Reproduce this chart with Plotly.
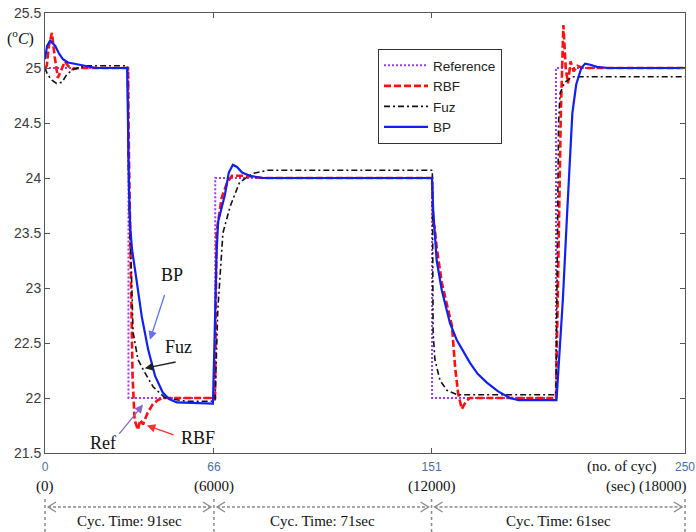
import plotly.graph_objects as go

# ---------------- data ----------------
ref_x = [0, 32.6, 32.6, 66.5, 66.5, 151.2, 151.2, 199.6, 199.6, 250]
ref_y = [25, 25, 22, 22, 24, 24, 22, 22, 25, 25]

rbf_x = [0, 0.7, 1.5, 2.7, 3.8, 5, 6.3, 7.8, 9, 10.5, 14, 32.4,
         32.8, 33.5, 34.2, 35, 36.3, 37.2, 38.3, 40, 42, 44, 46, 66.4,
         67, 69, 71, 73, 78, 85, 151.2,
         151.6, 152.2, 153, 155, 157, 159, 160.2, 161.4, 162.8, 164.5, 166, 199.6,
         200.5, 201.5, 202.5, 203.4, 204.3, 205.3, 206.5, 208, 210, 250]
rbf_y = [25.0, 25.02, 25.2, 25.32, 25.1, 24.91, 24.98, 25.06, 25.02, 24.99, 25.0, 25.0,
         24.2, 23.0, 22.2, 21.8, 21.71, 21.8, 21.76, 21.86, 21.94, 21.98, 22.0, 22.0,
         23.5, 23.82, 23.95, 24.02, 24.02, 24.0, 24.0,
         23.6, 23.55, 23.37, 23.05, 22.85, 22.65, 22.28, 22.04, 21.9, 21.97, 22.0, 22.0,
         23.2, 24.6, 25.39, 25.0, 24.86, 25.06, 24.97, 25.02, 25.0, 25.0]

fuz_x = [0, 1, 2.7, 4.5, 6.6, 8.5, 10.5, 12.5, 16, 32.2,
         32.5, 33, 33.8, 34.4, 36.3, 39, 42.3, 47, 55.5, 66.4,
         67.5, 69.5, 72.3, 76, 81, 87, 151.3,
         151.6, 152.3, 154.3, 157, 161, 199.6,
         200, 200.6, 201.2, 203, 206, 250]
fuz_y = [25.0, 24.94, 24.89, 24.86, 24.87, 24.94, 24.98, 25.0, 25.02, 25.02,
         24.2, 23.6, 23.1, 22.6, 22.35, 22.23, 22.1, 22.0, 21.97, 21.97,
         22.8, 23.5, 23.74, 23.96, 24.04, 24.07, 24.07,
         22.6, 22.35, 22.16, 22.07, 22.03, 22.03,
         23.0, 24.5, 24.77, 24.87, 24.92, 24.92]

bp_x = [0, 0.8, 2, 4, 5.5, 7, 9, 11, 15.6, 20, 32.1,
        32.4, 32.8, 33.3, 34, 35.9, 37.8, 40.3, 43, 46, 48.5, 51.5, 65.6,
        66.3, 67, 67.6, 69, 70.3, 71.8, 73.4, 75, 77, 80, 85, 151.2,
        151.6, 153, 155, 158.2, 160.8, 166, 169, 172.6, 177, 181.6, 185, 199.8,
        201, 202.3, 204, 206, 207.5, 209.5, 211, 213, 215.6, 220, 250]
bp_y = [25.08, 25.2, 25.25, 25.2, 25.13, 25.08, 25.05, 25.04, 25.02, 25.0, 25.0,
        24.4, 23.9, 23.55, 23.35, 23.05, 22.74, 22.44, 22.2, 22.05, 21.99, 21.96, 21.95,
        22.6, 23.3, 23.6, 23.72, 23.85, 24.05, 24.12, 24.1, 24.05, 24.02, 24.0, 24.0,
        23.72, 23.25, 22.98, 22.68, 22.53, 22.32, 22.22, 22.14, 22.06, 22.0, 21.98, 21.98,
        22.4, 22.9, 23.7, 24.59, 24.85, 25.0, 25.04, 25.03, 25.01, 25.0, 25.0]

y_ticks = [21.5, 22, 22.5, 23, 23.5, 24, 24.5, 25, 25.5]
y_tick_text = ["21.5", "22", "22.5", "23", "23.5", "24", "24.5", "25", "25.5"]
x_ticks = [0, 66, 151, 250]
x_tick_text = ["0", "66", "151", "250"]
sec_labels = ["(0)", "(6000)", "(12000)"]
cyc_times = ["Cyc. Time: 91sec", "Cyc. Time: 71sec", "Cyc. Time: 61sec"]

# ---------------- figure ----------------
fig = go.Figure()
fig.add_trace(go.Scatter(x=ref_x, y=ref_y, mode="lines", name="Reference",
                         line=dict(color="#9b3cf0", width=2, dash="2px,2px")))
fig.add_trace(go.Scatter(x=rbf_x, y=rbf_y, mode="lines", name="RBF",
                         line=dict(color="#ff1010", width=2.6, dash="7px,3px")))
fig.add_trace(go.Scatter(x=fuz_x, y=fuz_y, mode="lines", name="Fuz",
                         line=dict(color="#111111", width=1.6, dash="6px,3px,2px,3px")))
fig.add_trace(go.Scatter(x=bp_x, y=bp_y, mode="lines", name="BP",
                         line=dict(color="#1020f0", width=2.2)))

W, H = 696, 532
L, R, T, B = 45, 11, 13, 79
PW, PH = W - L - R, H - T - B
XMAX = 250.0

def xp(v, dpx=0.0):
    return v / XMAX + dpx / PW

def yp(px_below_axis):
    return -px_below_axis / PH

serif = "Liberation Serif, Times New Roman, serif"
annotations = []
shapes = []

# y-axis unit label
annotations.append(dict(x=-25 / PW, y=1 - 25 / PH, xref="paper", yref="paper",
                        xanchor="center", yanchor="middle",
                        text="(<sup>o</sup><i>C</i>)", showarrow=False,
                        font=dict(family=serif, size=16, color="#111")))

# sec labels under tick labels
for v, t in zip(x_ticks[:3], sec_labels):
    annotations.append(dict(x=v, y=yp(33), xref="x", yref="paper", text=t,
                            xanchor="center", yanchor="middle",
                            showarrow=False, font=dict(family=serif, size=15, color="#111")))
annotations.append(dict(x=xp(250, 3), y=yp(33), xref="paper", yref="paper", text="(sec) (18000)",
                        xanchor="right", yanchor="middle", showarrow=False,
                        font=dict(family=serif, size=15, color="#111")))
annotations.append(dict(x=xp(0, 577), y=yp(14), xref="paper", yref="paper", text="(no. of cyc)",
                        xanchor="center", yanchor="middle", showarrow=False,
                        font=dict(family=serif, size=15, color="#111")))

# cycle time segments
gray = "#8a8a8a"
for v in x_ticks:
    shapes.append(dict(type="line", xref="paper", yref="paper", x0=xp(v), x1=xp(v),
                       y0=yp(46), y1=yp(80), line=dict(color=gray, width=1.5, dash="3px,3px")))
for i, t in enumerate(cyc_times):
    a, b = x_ticks[i], x_ticks[i + 1]
    yy = yp(54)
    shapes.append(dict(type="line", xref="paper", yref="paper", x0=xp(a, 3), x1=xp(b, -3),
                       y0=yy, y1=yy, line=dict(color=gray, width=1.5, dash="3px,2px")))
    dy = 5 / PH
    shapes.append(dict(type="path", xref="paper", yref="paper",
                       path=f"M {xp(a, 11)} {yy + dy} L {xp(a, 3)} {yy} L {xp(a, 11)} {yy - dy}",
                       line=dict(color=gray, width=1.3)))
    shapes.append(dict(type="path", xref="paper", yref="paper",
                       path=f"M {xp(b, -11)} {yy + dy} L {xp(b, -3)} {yy} L {xp(b, -11)} {yy - dy}",
                       line=dict(color=gray, width=1.3)))
    annotations.append(dict(x=(a + b) / 2, y=yp(68), xref="x", yref="paper", text=t,
                            xanchor="center", yanchor="middle",
                            showarrow=False, font=dict(family=serif, size=15, color="#111")))

# in-plot callouts
def arrow(x, y, ax, ay, color):
    annotations.append(dict(x=x, y=y, ax=ax, ay=ay, xref="x", yref="y", axref="x", ayref="y",
                            text="", showarrow=True, arrowhead=2, arrowsize=1.3,
                            arrowwidth=1.3, arrowcolor=color))

def label(x, y, t):
    annotations.append(dict(x=x, y=y, xref="x", yref="y", text=t, showarrow=False,
                            xanchor="center", yanchor="middle",
                            font=dict(family=serif, size=18, color="#111")))

arrow(41.0, 22.53, 46.9, 22.95, "#6070ff")
label(49.6, 23.12, "BP")
arrow(39.0, 22.27, 51.6, 22.33, "#222222")
label(52.3, 22.46, "Fuz")
arrow(38.3, 21.94, 28.5, 21.66, "#8a66cc")
label(22.7, 21.59, "Ref")
arrow(39.8, 21.75, 50.8, 21.66, "#ff3030")
label(59.8, 21.64, "RBF")

axis_col = "#555555"
fig.update_layout(
    width=W, height=H,
    margin=dict(l=L, r=R, t=T, b=B, autoexpand=False),
    paper_bgcolor="white", plot_bgcolor="white",
    showlegend=True,
    legend=dict(x=(378 - L) / PW, y=1 - (49 - T) / PH, xanchor="left", yanchor="top",
                bgcolor="white", bordercolor="#333333", borderwidth=1,
                font=dict(family="Liberation Sans, Arial, sans-serif", size=13.5, color="#222"),
                tracegroupgap=0, itemwidth=44),
    xaxis=dict(range=[0, 250], tickvals=x_ticks, ticktext=x_tick_text, automargin=False,
               showgrid=False, zeroline=False, showline=True, linecolor=axis_col, linewidth=1,
               mirror="ticks", ticks="inside", ticklen=5, tickcolor=axis_col,
               ticklabelstandoff=3,
               tickfont=dict(family="Liberation Sans, Arial, sans-serif", size=12, color="#4a6fa8")),
    yaxis=dict(range=[21.5, 25.5], tickvals=y_ticks, ticktext=y_tick_text, automargin=False,
               showgrid=False, zeroline=False, showline=True, linecolor=axis_col, linewidth=1,
               mirror="ticks", ticks="inside", ticklen=5, tickcolor=axis_col,
               tickfont=dict(family="Liberation Sans, Arial, sans-serif", size=14, color="#3a3a3a")),
    annotations=annotations,
    shapes=shapes,
)

fig.write_html("out.html")
